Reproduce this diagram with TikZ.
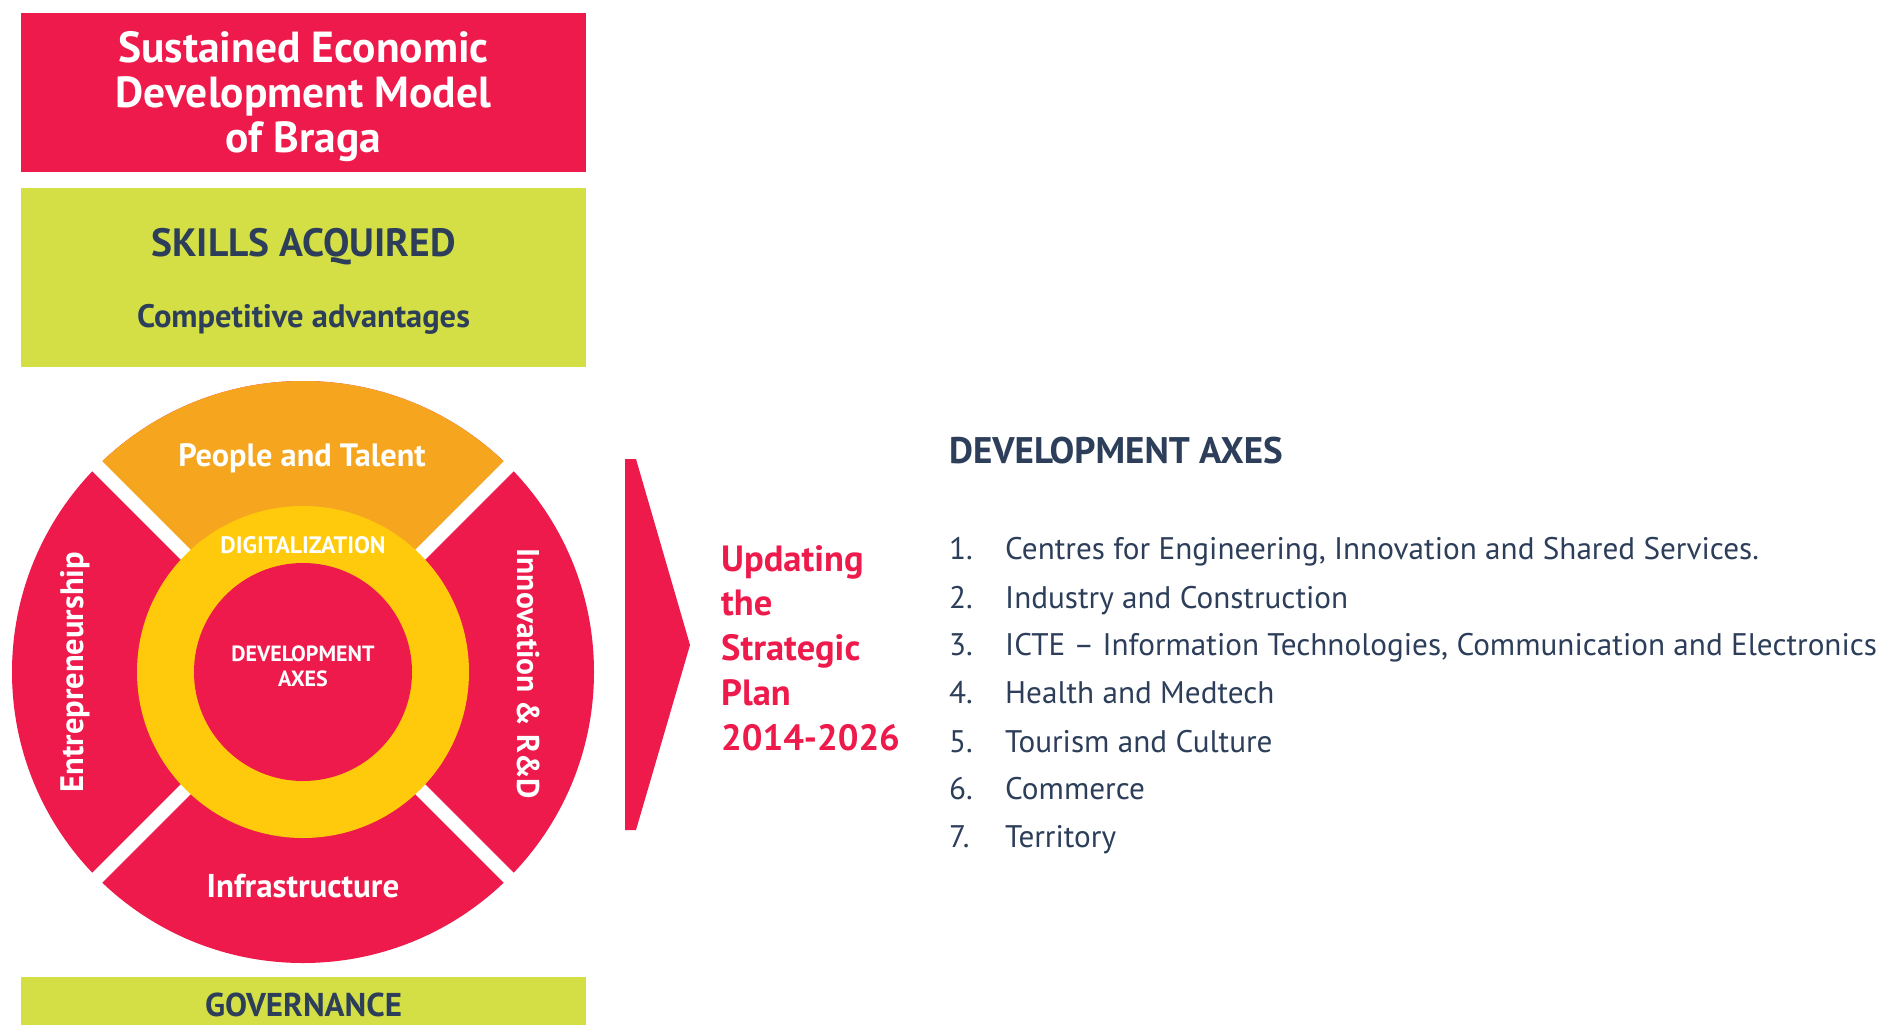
\documentclass[tikz,border=0pt]{standalone}
\usepackage{fontspec}
\setmainfont{PT Sans}
\usetikzlibrary{calc}
\definecolor{bred}{RGB}{237,26,75}
\definecolor{borange}{RGB}{246,166,30}
\definecolor{byellow}{RGB}{254,202,11}
\definecolor{bgreen}{RGB}{212,223,70}
\definecolor{bnavy}{RGB}{44,62,89}
\newcommand{\fs}[2]{\fontsize{#1}{#2}\selectfont}
\tikzset{
  panel/.style={inner sep=0pt, outer sep=0pt, minimum width=565pt},
  whitetxt/.style={text=white, font=\bfseries, inner sep=0pt},
  navytxt/.style={text=bnavy, font=\bfseries, inner sep=0pt},
  listnum/.style={text=bnavy, anchor=base west, inner sep=0pt, font=\fs{31.2}{36}},
  listtxt/.style={text=bnavy, anchor=base west, inner sep=0pt, font=\fs{31.2}{36}},
}
\begin{document}
\begin{tikzpicture}[x=1pt,y=-1pt]
\useasboundingbox (0,0) rectangle (1898,1025);
\fill[white] (0,0) rectangle (1898,1025);
% title panel
\node[panel, fill=bred, minimum height=159pt] (titlebox) at (303.5,92.5) {};
\node[whitetxt, align=center, font=\bfseries\fs{43.5}{45}] (title) at (303.5,97) {Sustained Economic\\Development Model\\of Braga};
% skills panel
\node[panel, fill=bgreen, minimum height=179pt] (skillsbox) at (303.5,277.5) {};
\node[navytxt, font=\bfseries\fs{39.5}{44}] (skills) at (303.5,247) {SKILLS ACQUIRED};
\node[navytxt, font=\bfseries\fs{32.5}{38}] (compet) at (303.5,319.5) {Competitive advantages};
% wheel
\coordinate (c) at (303,672);
\fill[bred] (c) circle[radius=291pt];
\begin{scope}
  \clip (c) circle[radius=291pt];
  \fill[borange] (c) -- ++(-400,-400) -- ++(800,0) -- cycle;
\end{scope}
\draw[white, line width=14pt] ($(c)+(-300,-300)$) -- ($(c)+(300,300)$);
\draw[white, line width=14pt] ($(c)+(300,-300)$) -- ($(c)+(-300,300)$);
\fill[byellow] (c) circle[radius=166pt];
\fill[bred] (c) circle[radius=109pt];
\node[whitetxt, font=\bfseries\fs{32.3}{38}] (people) at (302,458) {People and Talent};
\node[whitetxt, font=\bfseries\fs{33}{38}] (infra) at (303,886) {Infrastructure};
\node[whitetxt, font=\bfseries\fs{32.5}{38}, rotate=90] (entre) at (75,672) {Entrepreneurship};
\node[whitetxt, font=\bfseries\fs{31.5}{38}, rotate=-90] (innov) at (529,674) {Innovation \& R\&D};
\node[whitetxt, font=\bfseries\fs{23.8}{28}] (digit) at (303,545) {DIGITALIZATION};
\node[whitetxt, align=center, font=\bfseries\fs{22}{25}] (devaxes) at (303,666) {DEVELOPMENT\\AXES};
% governance panel
\node[panel, fill=bgreen, minimum height=48pt] (govbox) at (303.5,1001) {};
\node[navytxt, font=\bfseries\fs{33}{38}] (gov) at (303.5,1005) {GOVERNANCE};
% chevron
\fill[bred] (625,459) -- (636,459) -- (690,645) -- (636,830) -- (625,830) -- cycle;
\node[text=bred, font=\bfseries\fs{36.5}{44.8}, align=left, anchor=west, inner sep=0pt] (update) at (721,648) {Updating\\the\\Strategic\\Plan\\2014-2026};
% development axes list
\node[navytxt, anchor=west, font=\bfseries\fs{37}{42}] (devhead) at (949,451) {DEVELOPMENT AXES};
\foreach \n/\t/\y in {1/{Centres for Engineering, Innovation and Shared Services.}/559,
                      2/{Industry and Construction}/608,
                      3/{ICTE – Information Technologies, Communication and Electronics}/655,
                      4/{Health and Medtech}/703,
                      5/{Tourism and Culture}/752,
                      6/{Commerce}/799,
                      7/{Territory}/847}{
  \node[listnum] (num\n) at (949,\y) {\n.};
  \node[listtxt] (item\n) at (1005,\y) {\t};
}
\end{tikzpicture}
\end{document}
